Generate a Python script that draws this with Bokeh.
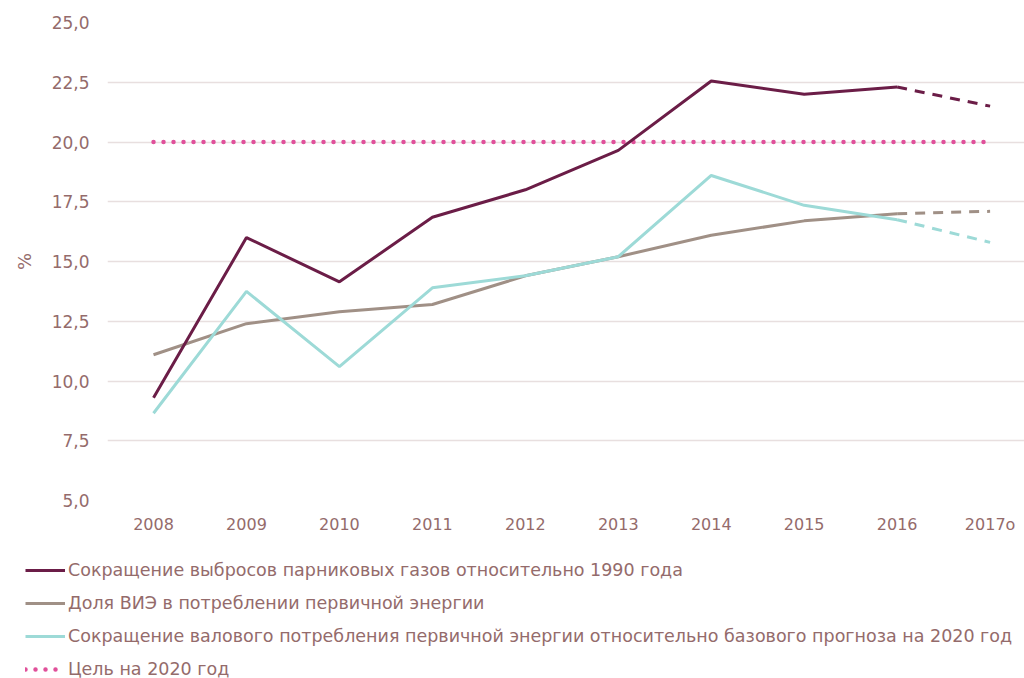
from bokeh.plotting import figure
from bokeh.layouts import column
from bokeh.models import Range1d, FixedTicker, Legend, LegendItem
from bokeh.embed import file_html
from bokeh.resources import INLINE

years = [2008, 2009, 2010, 2011, 2012, 2013, 2014, 2015, 2016, 2017]
year_labels = ["2008", "2009", "2010", "2011", "2012", "2013", "2014", "2015", "2016", "2017о"]
ghg = [9.3, 16.0, 14.15, 16.85, 18.0, 19.65, 22.55, 22.0, 22.3, 21.5]
res = [11.1, 12.4, 12.9, 13.2, 14.4, 15.2, 16.1, 16.7, 17.0, 17.1]
energy = [8.65, 13.75, 10.6, 13.9, 14.4, 15.2, 18.6, 17.35, 16.75, 15.8]
target = [20.0] * 10
y_ticks = [5.0, 7.5, 10.0, 12.5, 15.0, 17.5, 20.0, 22.5, 25.0]
names = [
    "Сокращение выбросов парниковых газов относительно 1990 года",
    "Доля ВИЭ в потреблении первичной энергии",
    "Сокращение валового потребления первичной энергии относительно базового прогноза на 2020 год",
    "Цель на 2020 год",
]

C_GHG = "#6b1d47"
C_RES = "#a09086"
C_EN = "#9ddad7"
C_TGT = "#e0509a"
TXT = "#946b6b"
FONT = "DejaVu Sans"

styles = {
    "ghg": dict(line_color=C_GHG, line_width=3),
    "res": dict(line_color=C_RES, line_width=3),
    "en": dict(line_color=C_EN, line_width=3),
    "tgt": dict(line_color=C_TGT, line_width=4.5, line_dash="0 10", line_cap="round"),
}
series = {"ghg": ghg, "res": res, "en": energy, "tgt": target}

p = figure(width=1024, height=548, output_backend="svg", toolbar_location=None,
           x_range=Range1d(2007.505, 2017.37), y_range=Range1d(5, 25),
           min_border_left=107, min_border_right=0, min_border_top=22, min_border_bottom=48)
p.frame_align = False
p.outline_line_color = None
p.xgrid.grid_line_color = None
p.ygrid.grid_line_color = "#e8dfdf"
p.ygrid.grid_line_width = 1.5

p.xaxis.ticker = FixedTicker(ticks=years)
p.xaxis.major_label_overrides = {y: l for y, l in zip(years, year_labels)}
p.yaxis.ticker = FixedTicker(ticks=y_ticks)
p.yaxis.major_label_overrides = {t: f"{t:.1f}".replace(".", ",") for t in y_ticks}
for ax in (p.xaxis, p.yaxis):
    ax.axis_line_color = None
    ax.major_tick_line_color = None
    ax.minor_tick_line_color = None
    ax.major_tick_out = 0
    ax.major_tick_in = 0
    ax.major_label_text_color = TXT
    ax.major_label_text_font = FONT
p.yaxis.major_label_text_font_size = "17px"
p.xaxis.major_label_text_font_size = "16px"
p.yaxis.major_label_standoff = 18
p.xaxis.major_label_standoff = 14
p.yaxis.axis_label = "%"
p.yaxis.axis_label_text_font_style = "normal"
p.yaxis.axis_label_text_color = TXT
p.yaxis.axis_label_text_font = FONT
p.yaxis.axis_label_text_font_size = "18px"
p.yaxis.axis_label_standoff = 14

p.line(years, target, **styles["tgt"])
p.line(years[:9], res[:9], **styles["res"])
p.line(years[8:], res[8:], line_dash="10 8", **styles["res"])
p.line(years[:9], energy[:9], **styles["en"])
p.line(years[8:], energy[8:], line_dash="10 8", **styles["en"])
p.line(years[:9], ghg[:9], **styles["ghg"])
p.line(years[8:], ghg[8:], line_dash="10 8", **styles["ghg"])

# legend panel below the chart (its own lines lie outside its view; only the legend shows)
lf = figure(width=1024, height=130, output_backend="svg", toolbar_location=None,
            x_axis_type=None, y_axis_type=None, x_range=Range1d(0, 1), y_range=Range1d(0, 1),
            min_border=0, min_border_left=0, min_border_right=0, min_border_top=0, min_border_bottom=0)
lf.frame_align = False
lf.outline_line_color = None
lf.grid.grid_line_color = None
items = []
for key, name in zip(["ghg", "res", "en", "tgt"], names):
    r = lf.line(years, series[key], **styles[key])
    items.append(LegendItem(label=name, renderers=[r]))
legend = Legend(items=items, location=(25, -1), orientation="vertical",
                padding=0, margin=0, spacing=13, label_standoff=3,
                glyph_width=40, glyph_height=20, label_height=20,
                label_text_font=FONT, label_text_font_size="17.5px", label_text_color=TXT,
                border_line_color=None, background_fill_alpha=0)
lf.add_layout(legend, "center")

layout = column(p, lf, spacing=0)
open("out.html", "w").write(file_html(layout, INLINE))
